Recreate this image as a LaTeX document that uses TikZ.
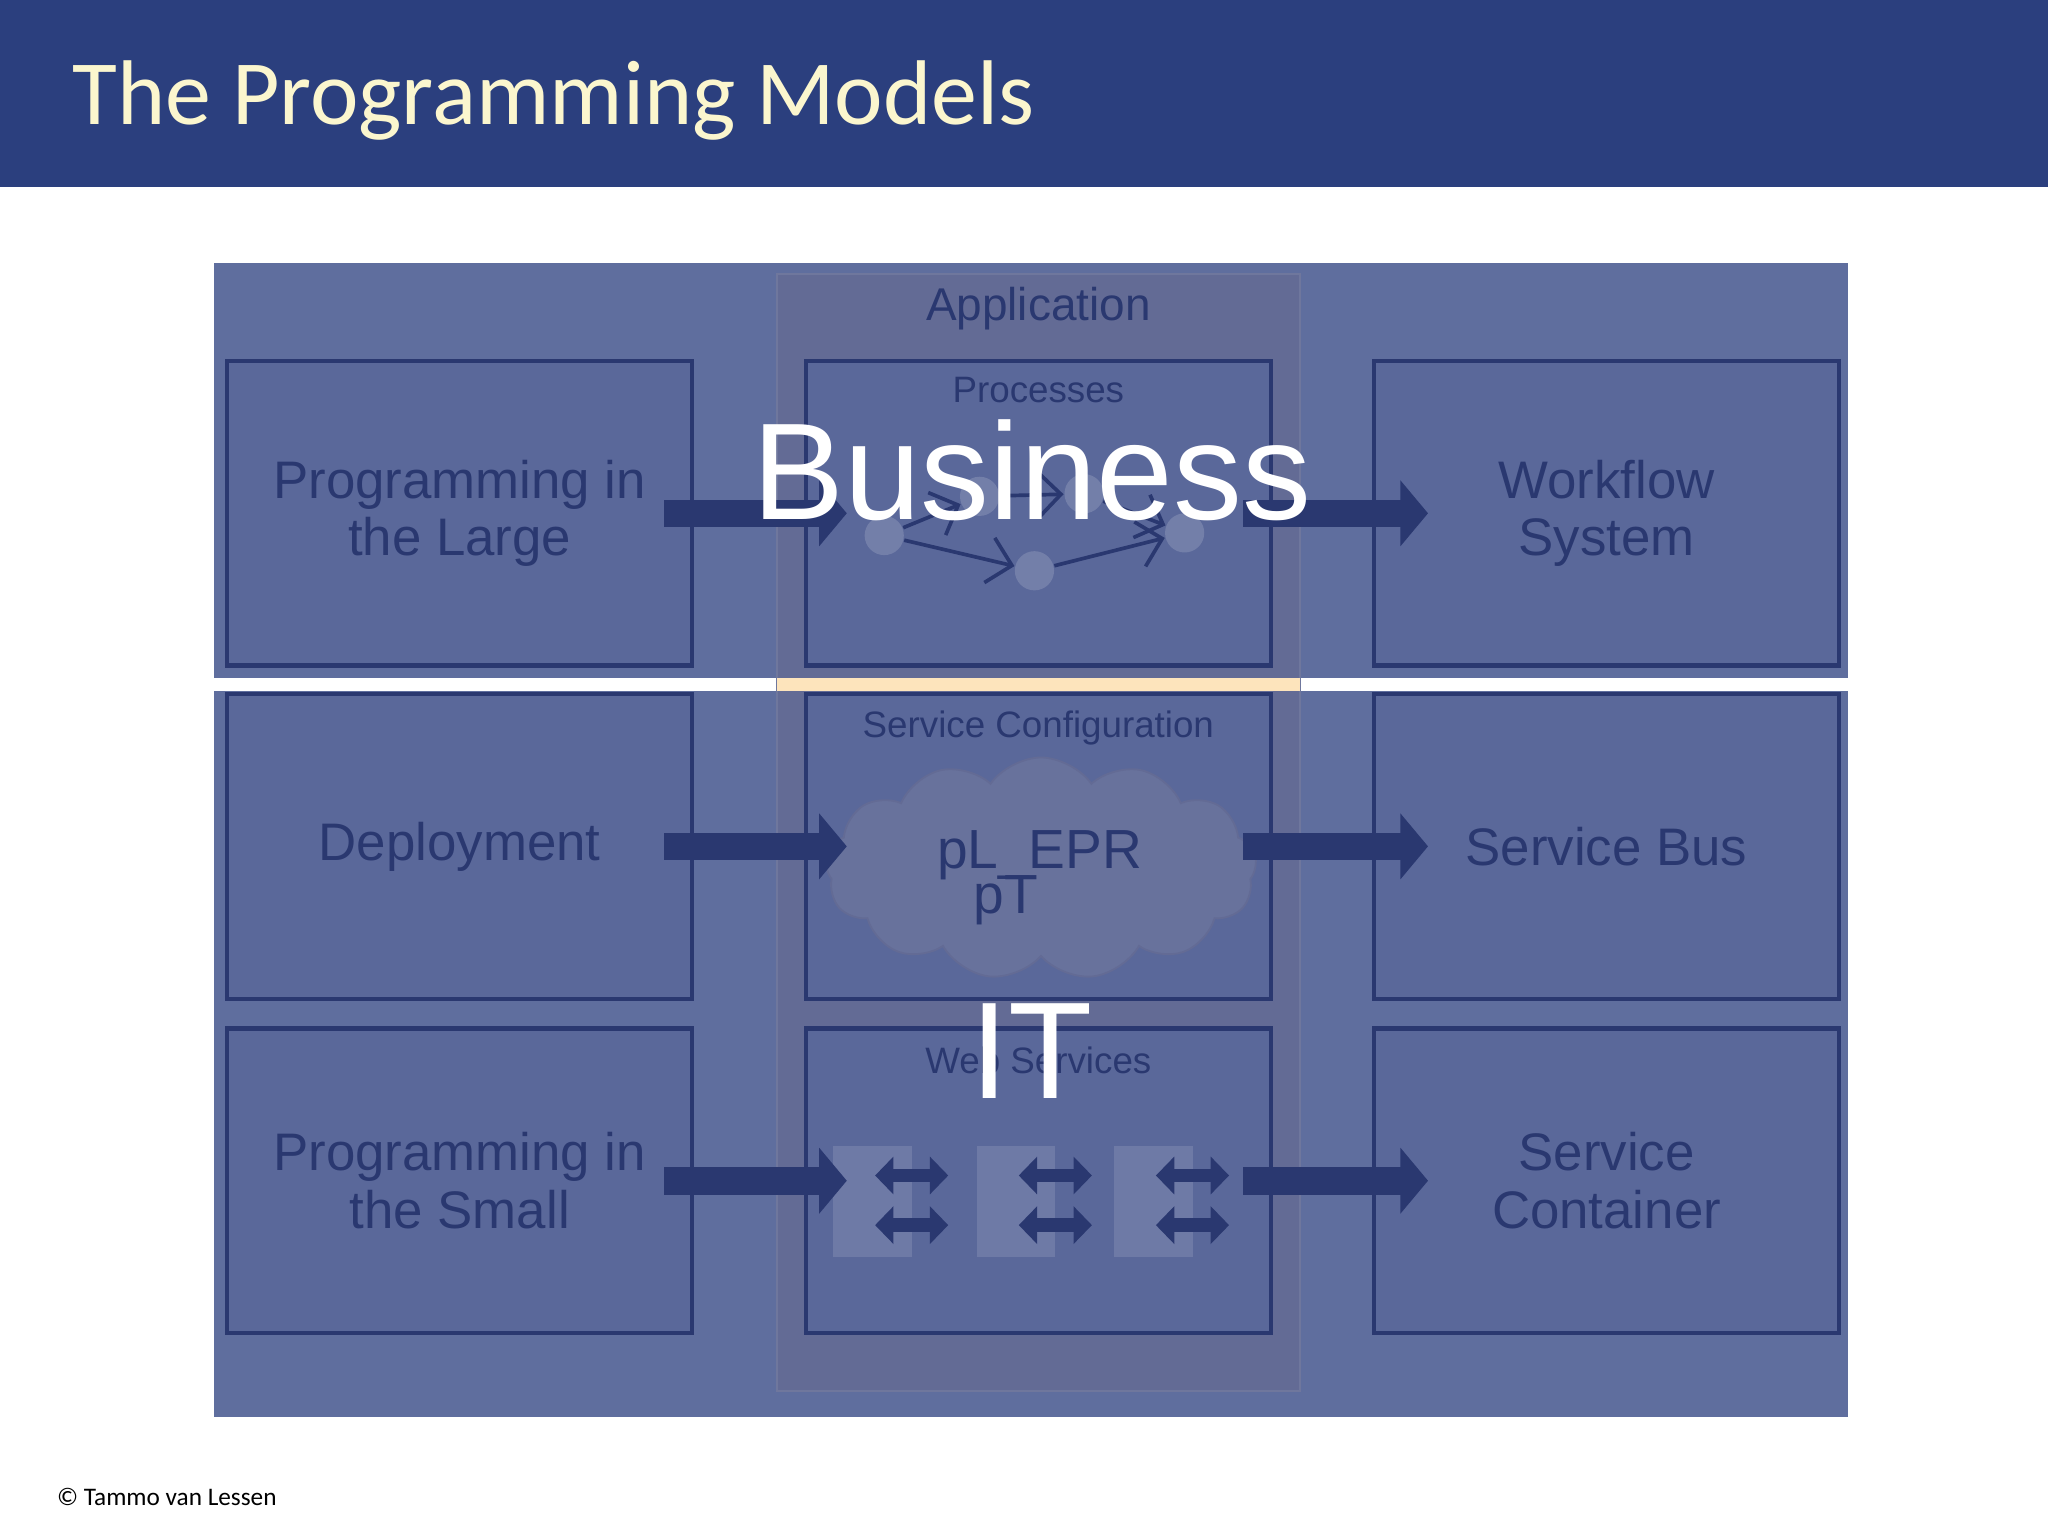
\documentclass[tikz,border=0pt]{standalone}
\usepackage{fontspec}
\setmainfont{Liberation Sans}
\newfontfamily\calib{Carlito}
\usetikzlibrary{arrows.meta,shapes.symbols,shadows}
\definecolor{hdr}{HTML}{2B3F7E}
\definecolor{panel}{HTML}{5F6E9E}
\definecolor{appc}{HTML}{636B95}
\definecolor{boxf}{HTML}{5A689A}
\definecolor{dk}{HTML}{2A3870}
\definecolor{ttl}{HTML}{FBF6CE}
\tikzset{
  bx/.style={draw=dk,line width=0.9pt,fill=boxf,minimum width=3.56cm,minimum height=2.33cm,inner sep=0pt},
  bt/.style={text=dk,font=\fontsize{11.5}{12.5}\selectfont,align=center},
  small/.style={text=dk,font=\fontsize{8}{9}\selectfont},
  fat/.style={draw=dk,line width=6pt,-{Triangle[length=6pt,width=14pt]}},
  pc/.style={circle,fill=boxf!85!white,minimum size=0.3cm,inner sep=0pt},
  pa/.style={draw=dk,line width=0.8pt,-{Straight Barb[length=5pt]}},
  ws/.style={fill=boxf!88!white,inner sep=0pt},
  dbl/.style={draw=dk,line width=3pt,{Triangle[length=4pt,width=8pt]}-{Triangle[length=4pt,width=8pt]}},
  big/.style={text=white,font=\fontsize{30}{30}\selectfont}
}
\begin{document}
\begin{tikzpicture}[x=0.01cm,y=-0.01cm]
\useasboundingbox (0,0) rectangle (1568,1176);
\fill[white] (0,0) rectangle (1568,1176);
\fill[hdr] (0,0) rectangle (1568,143);
\node[anchor=base west,text=ttl,font=\calib\fontsize{20}{20}\selectfont,inner sep=0pt] (title) at (55,95) {The Programming Models};
\fill[panel] (164,201) rectangle (1415,1085);
\fill[white] (164,519) rectangle (1415,529);
\fill[appc,draw=appc!92!white] (595,210) rectangle (995,1065);
\fill[ttl!70!orange!60] (595,519) rectangle (995,529);
\node[text=dk,font=\fontsize{10}{11}\selectfont] (app) at (795,236) {Application};
% boxes
\node[bx] (pil) at (352,393) {};
\node[bt] at (pil) {Programming in\\the Large};
\node[bx] (dep) at (352,648) {};
\node[bt] at (dep) {Deployment};
\node[bx] (pis) at (352,904) {};
\node[bt] at (pis) {Programming in\\the Small};
\node[bx] (proc) at (795,393) {};
\node[bx] (scfg) at (795,648) {};
\node[bx] (wsv) at (795,904) {};
\node[bx] (wf) at (1230,393) {};
\node[bt] at (wf) {Workflow\\System};
\node[bx] (sb) at (1230,648) {};
\node[bt] at (sb) {Service Bus};
\node[bx] (sc) at (1230,904) {};
\node[bt] at (sc) {Service\\Container};
\node[small] (ptl) at (795,299) {Processes};
\node[small] (sctl) at (795,557) {Service Configuration};
\node[small] (wstl) at (795,812) {Web Services};
% process graph
\node[pc] (p1) at (677,410) {};
\node[pc] (p2) at (750,380) {};
\node[pc] (p3) at (830,378) {};
\node[pc] (p4) at (907,408) {};
\node[pc] (p5) at (792,437) {};
\draw[pa] (p1) -- (p2);
\draw[pa] (p2) -- (p3);
\draw[pa] (p3) -- (p4);
\draw[pa] (p1) -- (p5);
\draw[pa] (p5) -- (p4);
% cloud
\node[cloud,cloud puffs=13,cloud puff arc=110,aspect=2,fill=appc!70!boxf!95!white,draw=appc,minimum width=3.3cm,minimum height=1.7cm] (cl) at (797,665) {};
\node[text=dk,font=\fontsize{12}{12}\selectfont] (epr) at (796,655) {pL\_EPR};
\node[text=dk,font=\fontsize{12}{12}\selectfont] (pt) at (770,689) {pT};
% web services
\foreach \i/\x in {1/668,2/778,3/883}{
  \node[ws,minimum width=0.6cm,minimum height=0.85cm] (w\i) at (\x,920) {};
  \coordinate (wl\i) at (\x+2,900);
  \coordinate (wr\i) at (\x+58,900);
  \coordinate (wl2\i) at (\x+2,938);
  \coordinate (wr2\i) at (\x+58,938);
  \draw[dbl] (wl\i) -- (wr\i);
  \draw[dbl] (wl2\i) -- (wr2\i);
}
% fat arrows
\foreach \a/\b in {pil/proc,dep/scfg,pis/wsv}{
  \draw[fat] ([xshift=-0.23cm]\a.east) -- ([xshift=0.33cm]\b.west);
}
\foreach \a/\b in {proc/wf,scfg/sb,wsv/sc}{
  \draw[fat] ([xshift=-0.23cm]\a.east) -- ([xshift=0.43cm]\b.west);
}
\node[big] (bus) at (790,360) {Business};
\node[big] (it) at (790,805) {IT};
\node[anchor=base west,font=\calib\fontsize{5.5}{6}\selectfont,inner sep=0pt] (cp) at (43,1153) {© Tammo van Lessen};
\end{tikzpicture}
\end{document}
